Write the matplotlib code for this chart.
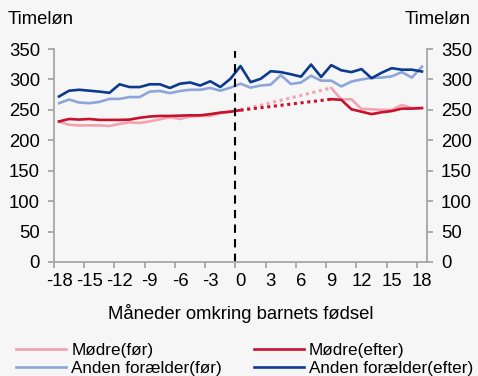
import numpy as np
import matplotlib.pyplot as plt
from matplotlib.ticker import FixedLocator

plt.rcParams['font.family'] = ['Liberation Sans', 'DejaVu Sans']

# Måneder omkring fødslen
maaneder = list(range(-18, 19))

nan = np.nan
modre_foer = [230.5, 225.5, 224.5, 224.5, 224.5, 223.5, 227, 229.5, 228.5, 231,
              234.5, 238, 235, 239, 240, 240, 244.5, 247, 249.5,
              nan, nan, nan, nan, nan, nan, nan, nan,
              286, 267, 267.5, 251.5, 251, 250, 250, 258, 253, 253]
modre_efter = [231, 235, 234, 235, 233.5, 233.5, 233.5, 234, 237, 239,
               240, 240, 240.5, 241, 241, 243, 245.5, 247, 249.5,
               nan, nan, nan, nan, nan, nan, nan, nan,
               267.5, 266.5, 251, 247, 243, 246, 248, 252, 252, 253]
anden_foer = [261, 267, 262, 261, 263, 268, 268, 271, 271, 280,
              281, 277.5, 281, 283, 283, 286, 281.5, 286.5, 293,
              286.5, 290, 291.5, 307, 292.5, 295, 306, 298, 298,
              288.5, 296.5, 300, 302.5, 303, 305, 312, 303, 321]
anden_efter = [272, 281.5, 283, 281.5, 280, 278, 292, 287.5, 287.5, 292,
               292, 286, 293, 295, 290, 297, 287.5, 301, 322,
               295.5, 301, 313.5, 312, 308.5, 304.5, 324.5, 304, 323.5,
               315, 312, 317, 302, 311, 318.5, 316, 316, 313]

x_labels = [str(m) for m in range(-18, 19, 3)]

lys_rod = '#f2a3b0'
rod = '#c8102e'
lys_blaa = '#8da6da'
blaa = '#0b3a8f'
bg = '#f6f6f6'
graa = '#a6a6a6'

fig = plt.figure(figsize=(4.78, 3.76), dpi=100, facecolor=bg)
ax = fig.add_axes([54/478, 1 - 262/376, (427-54)/478, (262-49)/376], facecolor=bg)

lw = 1.9
ax.plot(maaneder, modre_foer, color=lys_rod, lw=lw, label='Mødre(før)')
ax.plot(maaneder, anden_foer, color=lys_blaa, lw=lw, label='Anden forælder(før)')
ax.plot(maaneder, modre_efter, color=rod, lw=lw, label='Mødre(efter)')
ax.plot(maaneder, anden_efter, color=blaa, lw=lw, label='Anden forælder(efter)')

# stiplet forbindelse over hullet efter fødslen
i0, i9 = maaneder.index(0), maaneder.index(9)
ax.plot([maaneder[i0], maaneder[i9]], [modre_foer[i0], modre_foer[i9]],
        color=lys_rod, lw=2.2, ls=(0, (1, 1.2)))
ax.plot([maaneder[i0], maaneder[i9]], [modre_efter[i0], modre_efter[i9]],
        color=rod, lw=2.2, ls=(0, (1, 1.2)))

ax.axvline(-0.5, ymax=0.99, color='black', lw=1.5, ls=(0, (4, 3)))

ax.set_xlim(-18.5, 18.5)
ax.set_ylim(0, 350)
ax.set_yticks(range(0, 351, 50))
ax.set_xticks(range(-18, 19, 3))
ax.set_xticklabels(x_labels)
ax.xaxis.set_minor_locator(FixedLocator(np.arange(-18.5, 18, 3)))

ax.spines['top'].set_visible(False)
for s in ['left', 'right', 'bottom']:
    ax.spines[s].set_color(graa)
    ax.spines[s].set_linewidth(1.3)

ax.tick_params(axis='x', which='major', length=0, pad=8, labelsize=13.3)
ax.tick_params(axis='x', which='minor', length=4, width=1.3, color=graa)
ax.tick_params(axis='y', length=4, width=1.3, color=graa, pad=6, labelsize=13.3,
               right=True, labelright=True)

ax.set_xlabel('Måneder omkring barnets fødsel', fontsize=13.3, labelpad=10)

fig.text(8/478, 1 - 20/376, 'Timeløn', fontsize=13.3, va='center', ha='left')
fig.text(471/478, 1 - 20/376, 'Timeløn', fontsize=13.3, va='center', ha='right')

fig.legend(loc='lower left', bbox_to_anchor=(0.013, -0.028), ncol=2, frameon=False,
           fontsize=12.3, handlelength=2.9, handletextpad=0.3, columnspacing=1.9,
           labelspacing=0.2, borderpad=0.1)

fig.savefig('out.png', dpi=100, facecolor=bg)
